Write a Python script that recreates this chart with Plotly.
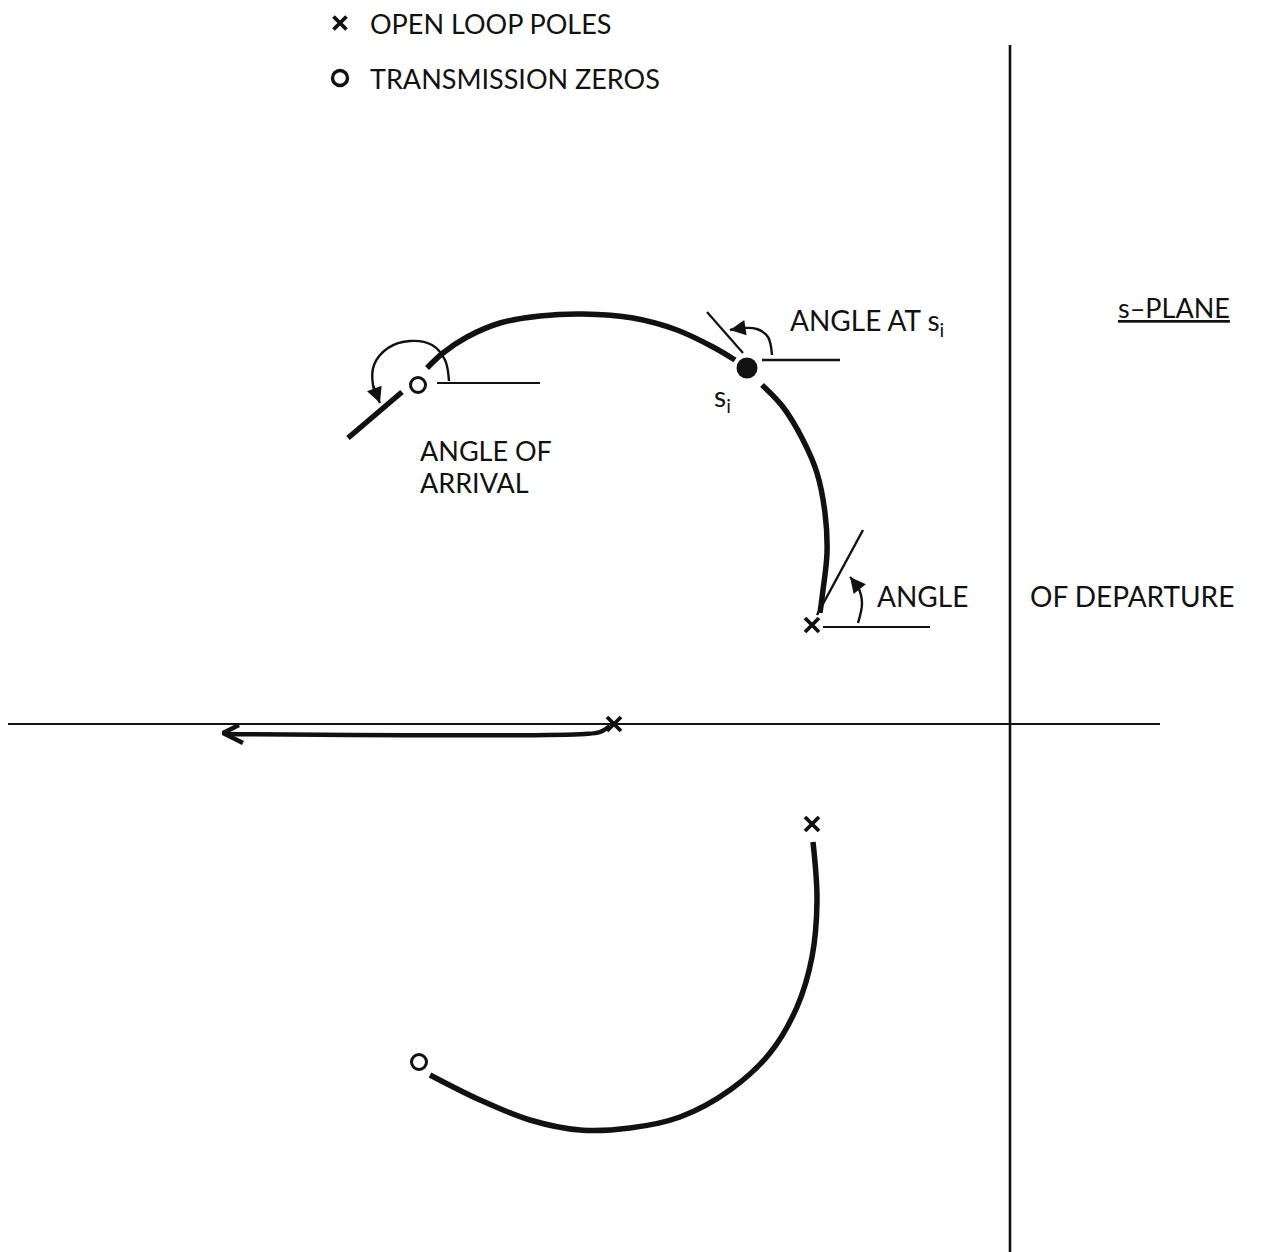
import plotly.graph_objects as go

# ---------------- data (s-plane units: sigma = real part, omega = imaginary part) -------------
# axes extents
real_axis_sigma = [-10.02, 1.50]
imag_axis_omega = [-5.36, 6.79]

# open loop poles
pole_sigma = [-3.96, -1.98, -1.98]
pole_omega = [0.00, 0.99, -1.00]

# transmission zeros
zero_sigma = [-5.92, -5.91]
zero_omega = [3.39, -3.38]

# point s_i on the locus
si_sigma = [-2.63]
si_omega = [3.56]

# upper locus: pole -> s_i
locA_sigma = [-1.90, -1.87, -1.83, -1.85, -1.93, -2.07, -2.27, -2.48]
locA_omega = [1.11, 1.34, 1.71, 2.11, 2.51, 2.84, 3.17, 3.39]
# upper locus: s_i -> zero
locB_sigma = [-2.75, -2.97, -3.33, -3.77, -4.27, -4.70, -5.10, -5.43, -5.67, -5.83]
locB_omega = [3.64, 3.77, 3.94, 4.06, 4.10, 4.08, 4.01, 3.87, 3.71, 3.56]
# lower locus: pole -> zero
locC_sigma = [-1.97, -1.93, -1.98, -2.13, -2.40, -2.80, -3.30, -3.80, -4.30, -4.80, -5.30, -5.80]
locC_omega = [-1.18, -1.76, -2.33, -2.83, -3.29, -3.66, -3.93, -4.04, -4.06, -3.96, -3.76, -3.51]
# real-axis locus: pole -> -infinity
locR_sigma = [-4.00, -4.10, -4.25, -7.85]
locR_omega = [-0.02, -0.08, -0.10, -0.10]
locR_arrow_sigma = [-7.71, -7.87, -7.67]
locR_arrow_omega = [-0.01, -0.09, -0.19]

# angle of arrival construction (at upper zero)
arr_ref_sigma = [-5.73, -4.70]
arr_ref_omega = [3.41, 3.41]
arr_tan_sigma = [-6.62, -6.08]
arr_tan_omega = [2.86, 3.32]
arr_arc_sigma = [-5.61, -5.65, -5.78, -6.00, -6.22, -6.36, -6.37, -6.30]
arr_arc_omega = [3.43, 3.64, 3.79, 3.83, 3.76, 3.59, 3.39, 3.21]

# angle at s_i construction
si_ref_sigma = [-2.48, -1.70]
si_ref_omega = [3.64, 3.64]
si_tan_sigma = [-3.03, -2.67]
si_tan_omega = [4.12, 3.71]
si_arc_sigma = [-2.38, -2.42, -2.53, -2.67, -2.80]
si_arc_omega = [3.69, 3.87, 3.95, 3.96, 3.94]

# angle of departure construction (at upper complex pole)
dep_ref_sigma = [-1.87, -0.80]
dep_ref_omega = [0.97, 0.97]
dep_tan_sigma = [-1.93, -1.47]
dep_tan_omega = [1.09, 1.94]
dep_arc_sigma = [-1.52, -1.48, -1.52, -1.60]
dep_arc_omega = [1.01, 1.21, 1.37, 1.47]

# text labels
legend_labels = ["OPEN LOOP POLES", "TRANSMISSION ZEROS"]
legend_omega = [7.01, 6.46]
legend_sym_sigma = -6.70
legend_text_sigma = -6.42

FONT = "Lato"
INK = "#111111"

fig = go.Figure()

def line(xs, ys, w, shape="linear"):
    fig.add_trace(go.Scatter(x=xs, y=ys, mode="lines",
                             line=dict(color=INK, width=w, shape=shape),
                             hoverinfo="skip"))

# axes
line(real_axis_sigma, [0, 0], 2.2)
line([0, 0], imag_axis_omega, 2.6)

# loci
line(locA_sigma, locA_omega, 5.5, "spline")
line(locB_sigma, locB_omega, 5.5, "spline")
line(locC_sigma, locC_omega, 5.5, "spline")
line(locR_sigma, locR_omega, 4.5, "spline")
line(locR_arrow_sigma, locR_arrow_omega, 4.5)

# arrival construction
line(arr_ref_sigma, arr_ref_omega, 2.2)
line(arr_tan_sigma, arr_tan_omega, 5.5)
line(arr_arc_sigma, arr_arc_omega, 2.4, "spline")
# s_i construction
line(si_ref_sigma, si_ref_omega, 2.6)
line(si_tan_sigma, si_tan_omega, 2.2)
line(si_arc_sigma, si_arc_omega, 2.4, "spline")
# departure construction
line(dep_ref_sigma, dep_ref_omega, 2.2)
line(dep_tan_sigma, dep_tan_omega, 2.4)
line(dep_arc_sigma, dep_arc_omega, 2.4, "spline")

# poles, zeros, s_i
fig.add_trace(go.Scatter(x=pole_sigma, y=pole_omega, mode="markers",
                         marker=dict(symbol="x-thin", size=14, line=dict(color=INK, width=3.8)),
                         hoverinfo="skip"))
fig.add_trace(go.Scatter(x=zero_sigma, y=zero_omega, mode="markers",
                         marker=dict(symbol="circle-open", size=15, color=INK, line=dict(width=3)),
                         hoverinfo="skip"))
fig.add_trace(go.Scatter(x=si_sigma, y=si_omega, mode="markers",
                         marker=dict(symbol="circle", size=21, color=INK),
                         hoverinfo="skip"))
# legend symbols
fig.add_trace(go.Scatter(x=[legend_sym_sigma], y=[legend_omega[0]], mode="markers",
                         marker=dict(symbol="x-thin", size=13, line=dict(color=INK, width=3.8)),
                         hoverinfo="skip"))
fig.add_trace(go.Scatter(x=[legend_sym_sigma], y=[legend_omega[1]], mode="markers",
                         marker=dict(symbol="circle-open", size=15, color=INK, line=dict(width=3.4)),
                         hoverinfo="skip"))

annotations = []

def arrowhead(xs, ys):
    annotations.append(dict(x=xs[-1], y=ys[-1], ax=xs[-2], ay=ys[-2],
                            xref="x", yref="y", axref="x", ayref="y",
                            text="", showarrow=True, arrowhead=2, arrowsize=1.3,
                            arrowwidth=2.4, arrowcolor=INK, standoff=0))

arrowhead(arr_arc_sigma, arr_arc_omega)
arrowhead(si_arc_sigma, si_arc_omega)
arrowhead(dep_arc_sigma, dep_arc_omega)

def label(txt, x, y, size=24, anchor="left"):
    annotations.append(dict(x=x, y=y, xref="x", yref="y", text=txt, showarrow=False,
                            xanchor=anchor, yanchor="middle",
                            font=dict(family=FONT, size=size, color=INK)))

for t, w in zip(legend_labels, legend_omega):
    label(t, legend_text_sigma, w, 27)
label("ANGLE OF", -5.92, 2.74, 27)
label("ARRIVAL", -5.92, 2.42, 27)
label("ANGLE AT s<sub>i</sub>", -2.22, 4.02, 28)
label("s<sub>i</sub>", -2.98, 3.26, 28)
label("<u>s–PLANE</u>", 1.06, 4.17, 27)
label("ANGLE", -1.35, 1.28, 28)
label("OF DEPARTURE", 0.18, 1.28, 28)

fig.update_layout(
    width=1266, height=1252,
    margin=dict(l=0, r=0, t=0, b=0),
    paper_bgcolor="white", plot_bgcolor="white",
    showlegend=False,
    # ranges offset by the page's 8 px body margin so the drawing lands where the reference has it
    xaxis=dict(range=[-10.02, 2.64], visible=False, fixedrange=True),
    yaxis=dict(range=[-5.36, 7.16], visible=False, fixedrange=True),
    annotations=annotations,
)

fig.write_html("out.html")
